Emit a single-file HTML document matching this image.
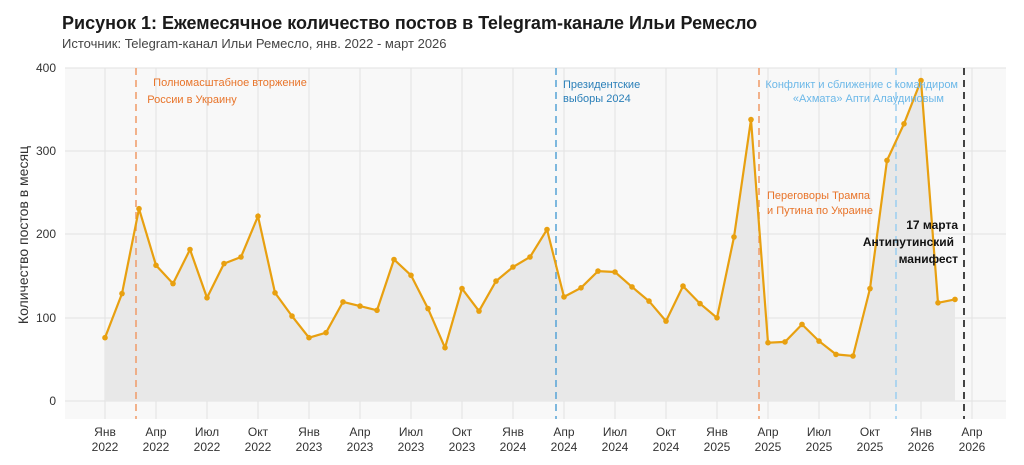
<!DOCTYPE html>
<html><head><meta charset="utf-8"><style>
body{margin:0;background:#fff;font-family:"Liberation Sans",sans-serif;}
</style></head><body>
<svg width="1024" height="460" xmlns="http://www.w3.org/2000/svg" font-family="Liberation Sans, sans-serif">
<text x="62" y="29" font-size="18" font-weight="bold" fill="#1a1a1a">Рисунок 1: Ежемесячное количество постов в Telegram-канале Ильи Ремесло</text>
<text x="62" y="48" font-size="13" fill="#444">Источник: Telegram-канал Ильи Ремесло, янв. 2022 - март 2026</text>
<rect x="65" y="68" width="941" height="351" fill="#f8f8f8"/>
<g stroke="#e2e2e2" stroke-width="1">
<line x1="65" x2="1006" y1="401" y2="401"/><line x1="65" x2="1006" y1="318" y2="318"/><line x1="65" x2="1006" y1="234" y2="234"/><line x1="65" x2="1006" y1="151" y2="151"/><line x1="65" x2="1006" y1="68" y2="68"/>
<line x1="105" x2="105" y1="68" y2="419"/><line x1="156" x2="156" y1="68" y2="419"/><line x1="207" x2="207" y1="68" y2="419"/><line x1="258" x2="258" y1="68" y2="419"/><line x1="309" x2="309" y1="68" y2="419"/><line x1="360" x2="360" y1="68" y2="419"/><line x1="411" x2="411" y1="68" y2="419"/><line x1="462" x2="462" y1="68" y2="419"/><line x1="513" x2="513" y1="68" y2="419"/><line x1="564" x2="564" y1="68" y2="419"/><line x1="615" x2="615" y1="68" y2="419"/><line x1="666" x2="666" y1="68" y2="419"/><line x1="717" x2="717" y1="68" y2="419"/><line x1="768" x2="768" y1="68" y2="419"/><line x1="819" x2="819" y1="68" y2="419"/><line x1="870" x2="870" y1="68" y2="419"/><line x1="921" x2="921" y1="68" y2="419"/><line x1="972" x2="972" y1="68" y2="419"/>
</g>
<polygon fill="#e8e8e8" points="105,401 105,337.7 122,293.6 139,208.7 156,265.3 173,283.6 190,249.5 207,297.8 224,263.6 241,257 258,216.2 275,292.8 292,316.1 309,337.7 326,332.7 343,301.9 360,306.1 377,310.3 394,259.5 411,275.3 428,308.6 445,347.7 462,288.6 479,311.1 496,281.1 513,267 530,257 547,229.5 564,296.9 581,287.8 598,271.1 615,272 632,286.9 649,301.1 666,321.1 683,286.1 700,303.6 717,317.8 734,237 751,119.6 768,342.7 785,341.9 802,324.4 819,341.1 836,354.4 853,356 870,288.6 887,160.4 904,123.8 921,80.5 938,302.8 955,299.4 955,401"/>
<g stroke-width="1.6" stroke-dasharray="7,5" fill="none">
<line x1="136" x2="136" y1="68" y2="419" stroke="#f0a070"/>
<line x1="556" x2="556" y1="68" y2="419" stroke="#5fa8d8"/>
<line x1="759" x2="759" y1="68" y2="419" stroke="#f0a070"/>
<line x1="896" x2="896" y1="68" y2="419" stroke="#9fd0f0"/>
<line x1="964" x2="964" y1="68" y2="419" stroke="#444" stroke-width="2"/>
</g>
<polyline fill="none" stroke="#e8a010" stroke-width="2.2" points="105,337.7 122,293.6 139,208.7 156,265.3 173,283.6 190,249.5 207,297.8 224,263.6 241,257 258,216.2 275,292.8 292,316.1 309,337.7 326,332.7 343,301.9 360,306.1 377,310.3 394,259.5 411,275.3 428,308.6 445,347.7 462,288.6 479,311.1 496,281.1 513,267 530,257 547,229.5 564,296.9 581,287.8 598,271.1 615,272 632,286.9 649,301.1 666,321.1 683,286.1 700,303.6 717,317.8 734,237 751,119.6 768,342.7 785,341.9 802,324.4 819,341.1 836,354.4 853,356 870,288.6 887,160.4 904,123.8 921,80.5 938,302.8 955,299.4"/>
<g fill="#e8a010">
<circle cx="105" cy="337.7" r="2.8"/><circle cx="122" cy="293.6" r="2.8"/><circle cx="139" cy="208.7" r="2.8"/><circle cx="156" cy="265.3" r="2.8"/><circle cx="173" cy="283.6" r="2.8"/><circle cx="190" cy="249.5" r="2.8"/><circle cx="207" cy="297.8" r="2.8"/><circle cx="224" cy="263.6" r="2.8"/><circle cx="241" cy="257" r="2.8"/><circle cx="258" cy="216.2" r="2.8"/><circle cx="275" cy="292.8" r="2.8"/><circle cx="292" cy="316.1" r="2.8"/><circle cx="309" cy="337.7" r="2.8"/><circle cx="326" cy="332.7" r="2.8"/><circle cx="343" cy="301.9" r="2.8"/><circle cx="360" cy="306.1" r="2.8"/><circle cx="377" cy="310.3" r="2.8"/><circle cx="394" cy="259.5" r="2.8"/><circle cx="411" cy="275.3" r="2.8"/><circle cx="428" cy="308.6" r="2.8"/><circle cx="445" cy="347.7" r="2.8"/><circle cx="462" cy="288.6" r="2.8"/><circle cx="479" cy="311.1" r="2.8"/><circle cx="496" cy="281.1" r="2.8"/><circle cx="513" cy="267" r="2.8"/><circle cx="530" cy="257" r="2.8"/><circle cx="547" cy="229.5" r="2.8"/><circle cx="564" cy="296.9" r="2.8"/><circle cx="581" cy="287.8" r="2.8"/><circle cx="598" cy="271.1" r="2.8"/><circle cx="615" cy="272" r="2.8"/><circle cx="632" cy="286.9" r="2.8"/><circle cx="649" cy="301.1" r="2.8"/><circle cx="666" cy="321.1" r="2.8"/><circle cx="683" cy="286.1" r="2.8"/><circle cx="700" cy="303.6" r="2.8"/><circle cx="717" cy="317.8" r="2.8"/><circle cx="734" cy="237" r="2.8"/><circle cx="751" cy="119.6" r="2.8"/><circle cx="768" cy="342.7" r="2.8"/><circle cx="785" cy="341.9" r="2.8"/><circle cx="802" cy="324.4" r="2.8"/><circle cx="819" cy="341.1" r="2.8"/><circle cx="836" cy="354.4" r="2.8"/><circle cx="853" cy="356" r="2.8"/><circle cx="870" cy="288.6" r="2.8"/><circle cx="887" cy="160.4" r="2.8"/><circle cx="904" cy="123.8" r="2.8"/><circle cx="921" cy="80.5" r="2.8"/><circle cx="938" cy="302.8" r="2.8"/><circle cx="955" cy="299.4" r="2.8"/>
</g>
<g font-size="11">
<text x="230" y="86" fill="#e8742a" text-anchor="middle">Полномасштабное вторжение</text>
<text x="192" y="103" fill="#e8742a" text-anchor="middle">России в Украину</text>
<text x="563" y="88" fill="#2a7fb8">Президентские</text>
<text x="563" y="102" fill="#2a7fb8">выборы 2024</text>
<text x="767" y="199" fill="#e8742a">Переговоры Трампа</text>
<text x="767" y="214" fill="#e8742a">и Путина по Украине</text>
<text x="958" y="88" fill="#6cb8e8" text-anchor="end">Конфликт и сближение с командиром</text>
<text x="944" y="102" fill="#6cb8e8" text-anchor="end">«Ахмата» Апти Алаудиновым</text>
</g>
<g font-size="12" font-weight="bold" fill="#111" text-anchor="end">
<text x="958" y="229">17 марта</text>
<text x="954" y="246">Антипутинский</text>
<text x="958" y="263">манифест</text>
</g>
<g font-size="12" fill="#333" text-anchor="end">
<text x="56" y="405">0</text><text x="56" y="322">100</text><text x="56" y="238">200</text><text x="56" y="155">300</text><text x="56" y="72">400</text>
</g>
<text transform="translate(28,235) rotate(-90)" font-size="14" fill="#333" text-anchor="middle">Количество постов в месяц</text>
<g font-size="12" fill="#333" text-anchor="middle">
<text x="105" y="436">Янв</text><text x="105" y="451">2022</text>
<text x="156" y="436">Апр</text><text x="156" y="451">2022</text>
<text x="207" y="436">Июл</text><text x="207" y="451">2022</text>
<text x="258" y="436">Окт</text><text x="258" y="451">2022</text>
<text x="309" y="436">Янв</text><text x="309" y="451">2023</text>
<text x="360" y="436">Апр</text><text x="360" y="451">2023</text>
<text x="411" y="436">Июл</text><text x="411" y="451">2023</text>
<text x="462" y="436">Окт</text><text x="462" y="451">2023</text>
<text x="513" y="436">Янв</text><text x="513" y="451">2024</text>
<text x="564" y="436">Апр</text><text x="564" y="451">2024</text>
<text x="615" y="436">Июл</text><text x="615" y="451">2024</text>
<text x="666" y="436">Окт</text><text x="666" y="451">2024</text>
<text x="717" y="436">Янв</text><text x="717" y="451">2025</text>
<text x="768" y="436">Апр</text><text x="768" y="451">2025</text>
<text x="819" y="436">Июл</text><text x="819" y="451">2025</text>
<text x="870" y="436">Окт</text><text x="870" y="451">2025</text>
<text x="921" y="436">Янв</text><text x="921" y="451">2026</text>
<text x="972" y="436">Апр</text><text x="972" y="451">2026</text>
</g>
</svg>
</body></html>
